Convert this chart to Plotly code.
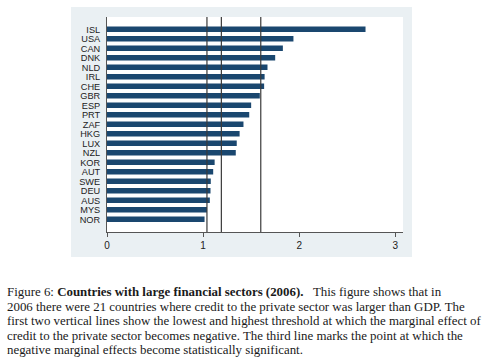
import plotly.graph_objects as go

countries = ["ISL", "USA", "CAN", "DNK", "NLD", "IRL", "CHE", "GBR", "ESP", "PRT", "ZAF",
             "HKG", "LUX", "NZL", "KOR", "AUT", "SWE", "DEU", "AUS", "MYS", "NOR"]
credit_gdp = [2.69, 1.94, 1.83, 1.75, 1.67, 1.64, 1.635, 1.59, 1.50, 1.48, 1.42,
              1.38, 1.35, 1.34, 1.12, 1.105, 1.08, 1.077, 1.07, 1.04, 1.015]
thresholds = [1.04, 1.19, 1.60]
x_ticks = [0, 1, 2, 3]

caption_lines = [
    "Figure 6: <b>Countries with large financial sectors (2006).</b>   This figure shows that in",
    "2006 there were 21 countries where credit to the private sector was larger than GDP. The",
    "first two vertical lines show the lowest and highest threshold at which the marginal effect of",
    "credit to the private sector becomes negative. The third line marks the point at which the",
    "negative marginal effects become statistically significant.",
]

W, H = 500, 362
L, R, T, B = 107, 403, 17, 232
pw, ph = R - L, B - T

def px_x(x):
    return (x - L) / pw

def px_y(y):
    return (B - y) / ph

fig = go.Figure()
fig.add_trace(go.Bar(
    x=credit_gdp, y=countries, orientation="h",
    marker=dict(color="#1a476f", line=dict(width=0)),
    hoverinfo="x+y",
))

shapes = [
    dict(type="rect", xref="paper", yref="paper", x0=px_x(71), x1=px_x(412),
         y0=px_y(257), y1=px_y(7), fillcolor="#eaf0f3", line=dict(width=0), layer="below"),
    dict(type="rect", xref="paper", yref="paper", x0=0, x1=1, y0=0, y1=1,
         fillcolor="white", line=dict(width=0), layer="below"),
]
for t in thresholds:
    shapes.append(dict(type="line", xref="x", yref="paper", x0=t, x1=t, y0=0, y1=1,
                       line=dict(color="#3a3a3a", width=1.2), layer="above"))

annotations = []
y0 = 292
for i, line in enumerate(caption_lines):
    annotations.append(dict(
        text=line, xref="paper", yref="paper", x=px_x(5), y=px_y(y0 + i * 14.6),
        xanchor="left", yanchor="middle", showarrow=False, align="left",
        font=dict(family="Liberation Serif", size=12.9, color="#1a1a1a"),
    ))

fig.update_layout(
    width=W, height=H,
    margin=dict(l=L, r=W - R, t=T, b=H - B, pad=0),
    paper_bgcolor="white", plot_bgcolor="white",
    bargap=0.42,
    showlegend=False,
    shapes=shapes,
    annotations=annotations,
    font=dict(family="Liberation Sans", size=10, color="#222"),
    xaxis=dict(range=[0, 3.08], tickvals=x_ticks, ticks="outside", ticklen=4,
               tickcolor="#555", showgrid=False, zeroline=False, showline=True,
               linecolor="#555", linewidth=1, tickfont=dict(size=10, color="#222")),
    yaxis=dict(categoryorder="array", categoryarray=countries,
               tickmode="array", tickvals=countries, ticktext=countries,
               range=[21.34, -1.3], showgrid=False, zeroline=False, showline=True,
               linecolor="#555", linewidth=1, ticks="", ticklen=0,
               ticklabelstandoff=4,
               tickfont=dict(size=9.2, color="#222")),
)

fig.write_html("out.html", config={"displayModeBar": False},
               post_script="document.body.style.margin='0';document.body.style.padding='0';")
